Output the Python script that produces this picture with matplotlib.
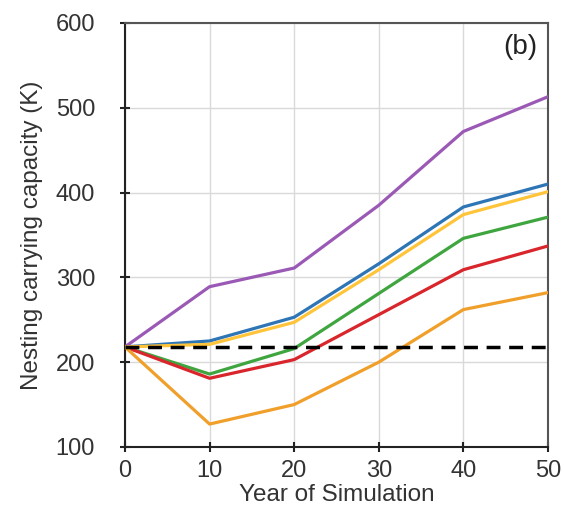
import numpy as np
import matplotlib as mpl
import matplotlib.pyplot as plt

mpl.rc('font', family='Liberation Sans', size=14)

years = [0, 10, 20, 30, 40, 50]
purple = [218, 289, 311, 385, 472, 513]
blue = [218, 225, 253, 316, 383, 410]
yellow = [218, 221, 247, 309, 374, 401]
green = [218, 186, 216, 281, 346, 371]
red = [218, 181, 203, 256, 309, 337]
orange = [218, 127, 150, 200, 262, 282]
baseline = 218

series = [
    (purple, '#9b59b6'),
    (blue, '#2e75b6'),
    (yellow, '#ffc43a'),
    (green, '#3fa63f'),
    (red, '#d9262c'),
    (orange, '#f0a02a'),
]

fig = plt.figure(figsize=(5.64, 5.14), dpi=100)
ax = fig.add_axes([0.2216, 0.1304, 0.75, 0.825])

for vals, col in series:
    ax.plot(years, vals, color=col, lw=2.3, zorder=3)
ax.axhline(baseline, color='black', lw=2.5, ls=(0, (4, 2.5)), zorder=4)

ax.set_xlim(0, 50)
ax.set_ylim(100, 600)
ax.set_xticks(years)
ax.set_yticks(np.arange(100, 601, 100))
ax.grid(color='#d9d9d9', lw=1)
ax.set_axisbelow(True)
for side in ['top', 'right']:
    ax.spines[side].set_color('#555555')
    ax.spines[side].set_linewidth(1.5)
for side in ['left', 'bottom']:
    ax.spines[side].set_color('#222222')
    ax.spines[side].set_linewidth(1.5)
ax.tick_params(direction='inout', length=7, width=1.5, colors='#222222',
               labelcolor='#333333', labelsize=17)
ax.tick_params(axis='y', pad=18)
ax.tick_params(axis='x', pad=6)

ax.set_xlabel('Year of Simulation', fontsize=17.5, color='#333333',
              labelpad=1)
ax.set_ylabel('Nesting carrying capacity (K)', fontsize=17.5,
              color='#333333', labelpad=9)
ax.text(0.974, 0.975, '(b)', transform=ax.transAxes, ha='right', va='top',
        fontsize=20, color='#222222')

fig.savefig('out.png', dpi=100)
